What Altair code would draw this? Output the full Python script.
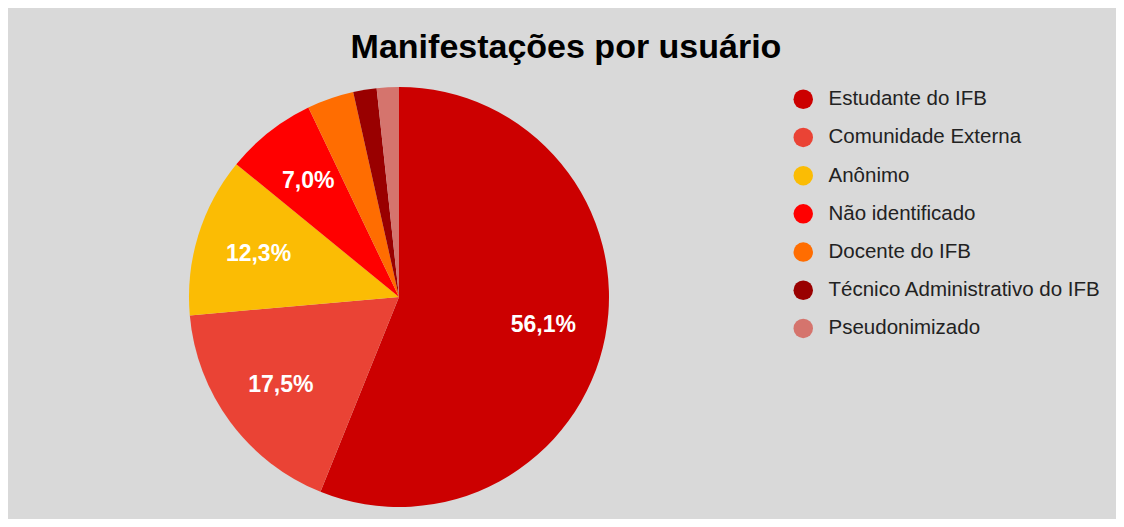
import altair as alt
import pandas as pd

categories = ["Estudante do IFB", "Comunidade Externa", "Anônimo", "Não identificado",
              "Docente do IFB", "Técnico Administrativo do IFB", "Pseudonimizado"]
shares = [56.1, 17.5, 12.3, 7.0, 3.6, 1.8, 1.7]
labels = ["56,1%", "17,5%", "12,3%", "7,0%", "", "", ""]
colors = ["#cc0000", "#ea4335", "#fbbc04", "#ff0000", "#ff6d01", "#990000", "#d5746d"]

df = pd.DataFrame({"cat": categories, "val": shares, "lab": labels,
                   "idx": list(range(len(categories)))})

CX, CY = 391, 209

base = alt.Chart(df).encode(
    theta=alt.Theta("val:Q", stack=True),
    order=alt.Order("idx:Q"),
    x=alt.value(CX), y=alt.value(CY),
)

pie = base.mark_arc(outerRadius=210, stroke=None).encode(
    color=alt.Color("cat:N",
                    scale=alt.Scale(domain=categories, range=colors),
                    legend=alt.Legend(title=None, orient="none", legendX=785, legendY=1,
                                      symbolType="circle", symbolSize=380,
                                      symbolStrokeWidth=0, symbolOpacity=1,
                                      labelFont="Liberation Sans", labelFontSize=20.5,
                                      labelColor="#222222", labelOffset=15,
                                      rowPadding=17.2, labelLimit=400))
)

text = base.mark_text(radius=147, font="Liberation Sans", fontSize=23,
                      fontWeight="bold", color="white").encode(text="lab:N")

chart = alt.layer(pie, text).properties(
    width=1108, height=431,
    background="#d9d9d9",
    padding={"top": 80, "left": 0, "right": 0, "bottom": 0},
    autosize=alt.AutoSizeParams(type="none"),
    title=alt.TitleParams("Manifestações por usuário", font="Liberation Sans",
                          fontSize=34, fontWeight="bold", color="#000000",
                          anchor="middle", baseline="alphabetic", offset=1, dx=4, dy=6),
).configure_view(stroke=None)

chart.save("out.html", embed_options={"renderer": "svg", "actions": False})
